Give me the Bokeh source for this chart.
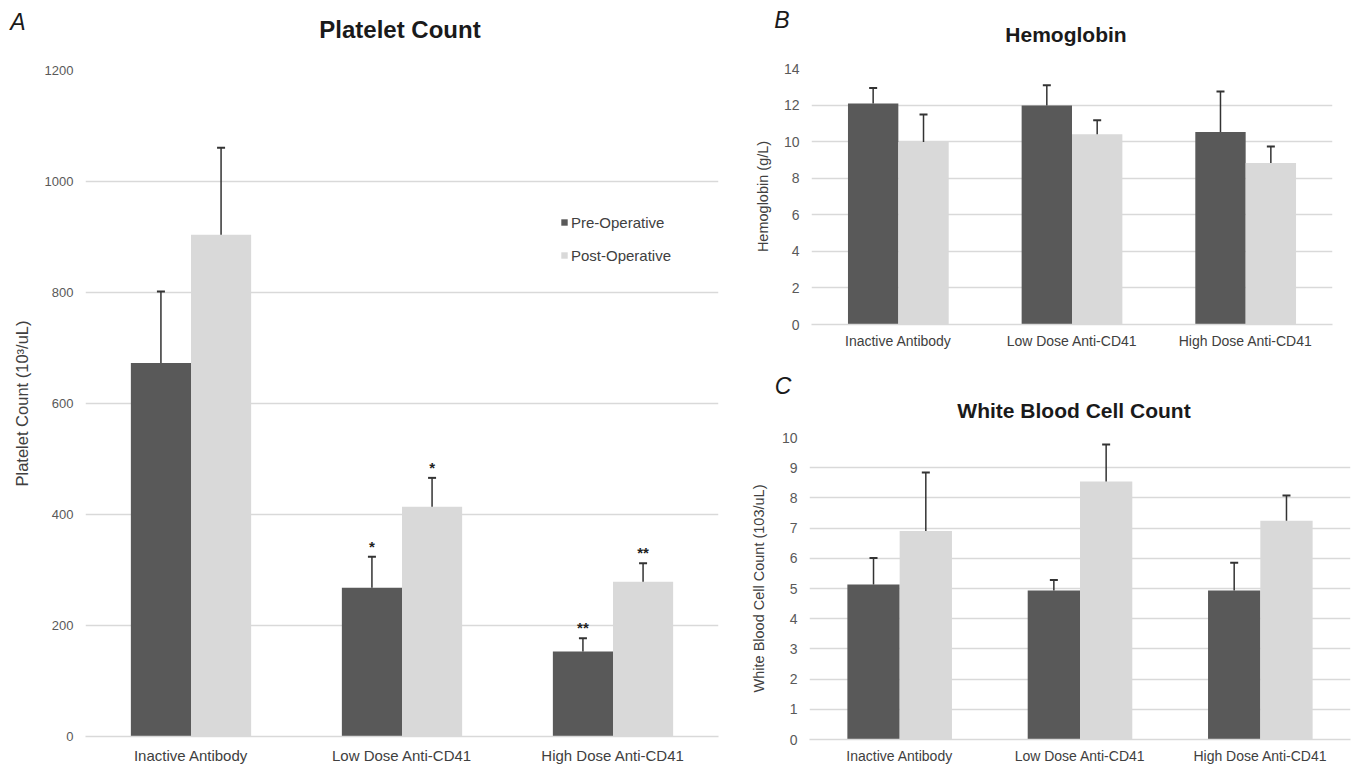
from bokeh.plotting import figure
from bokeh.models import ColumnDataSource, FactorRange, Range1d, FixedTicker, Legend, LegendItem, Div
from bokeh.transform import dodge
from bokeh.layouts import row, column
from bokeh.embed import file_html
from bokeh.resources import INLINE
from bokeh.core.properties import value

# ---------------- data ----------------
categories = ["Inactive Antibody", "Low Dose Anti-CD41", "High Dose Anti-CD41"]
series_names = ["Pre-Operative", "Post-Operative"]

platelet_pre = [673, 268, 153]
platelet_pre_sd = [129, 56, 24]
platelet_post = [904, 414, 279]
platelet_post_sd = [157, 52, 33]
platelet_pre_sig = ["", "*", "**"]
platelet_post_sig = ["", "*", "**"]
platelet_ticks = [0, 200, 400, 600, 800, 1000, 1200]

hgb_pre = [12.08, 11.97, 10.53]
hgb_pre_sd = [0.86, 1.12, 2.21]
hgb_post = [9.98, 10.40, 8.83]
hgb_post_sd = [1.50, 0.77, 0.91]
hgb_ticks = [0, 2, 4, 6, 8, 10, 12, 14]

wbc_pre = [5.13, 4.93, 4.93]
wbc_pre_sd = [0.88, 0.35, 0.92]
wbc_post = [6.90, 8.54, 7.24]
wbc_post_sd = [1.94, 1.23, 0.84]
wbc_ticks = [0, 1, 2, 3, 4, 5, 6, 7, 8, 9, 10]

PRE_COLOR = "#595959"
POST_COLOR = "#d9d9d9"
GRID_COLOR = "#d9d9d9"
TEXT_COLOR = "#595959"
ERR_COLOR = "#333333"
FONT = "Liberation Sans"


def make_header(width, height, letter, letter_xy, title, title_size, title_xy):
    """Header strip holding the italic panel letter and the bold panel title."""
    lx, ly = letter_xy
    tx, ty = title_xy
    html = (
        f'<div style="position:relative;width:{width}px;height:{height}px;overflow:visible;'
        f"font-family:'{FONT}';color:#1a1a1a;\">"
        f'<span style="position:absolute;left:{lx - 20}px;top:{ly - 14}px;width:40px;'
        f'text-align:center;font-size:23px;line-height:28px;font-style:italic;">{letter}</span>'
        f'<span style="position:absolute;left:{tx - 200}px;top:{ty - 14}px;width:400px;'
        f'text-align:center;font-size:{title_size};line-height:28px;font-weight:bold;'
        f'white-space:nowrap;">{title}</span>'
        f'</div>'
    )
    return Div(text=html, width=width, height=height, margin=0)


def make_panel(width, height, borders, ylabel, ylabel_size, ylabel_standoff, ticks,
               pre, pre_sd, post, post_sd, bar_w, tick_size, cat_size, cat_standoff,
               pre_sig=None, post_sig=None, legend_loc=None):
    left, right, top, bottom = borders
    p = figure(width=width, height=height, x_range=FactorRange(*categories),
               y_range=Range1d(ticks[0], ticks[-1]), output_backend="svg",
               toolbar_location=None, min_border_left=left, min_border_right=right,
               min_border_top=top, min_border_bottom=bottom)
    p.title = None
    p.outline_line_color = None
    p.background_fill_color = "white"
    p.border_fill_color = "white"

    src = ColumnDataSource(dict(
        cat=categories,
        pre=pre, post=post,
        pre_top=[m + s for m, s in zip(pre, pre_sd)],
        post_top=[m + s for m, s in zip(post, post_sd)],
        pre_sig=pre_sig if pre_sig else [""] * len(categories),
        post_sig=post_sig if post_sig else [""] * len(categories),
    ))
    off = bar_w / 2
    xpre = dodge("cat", -off, range=p.x_range)
    xpost = dodge("cat", off, range=p.x_range)

    r_pre = p.vbar(x=xpre, top="pre", bottom=0, width=bar_w, source=src,
                   fill_color=PRE_COLOR, line_color=None)
    r_post = p.vbar(x=xpost, top="post", bottom=0, width=bar_w, source=src,
                    fill_color=POST_COLOR, line_color=None)

    # error bars (upper only)
    for xx, base, topc in ((xpre, "pre", "pre_top"), (xpost, "post", "post_top")):
        p.segment(x0=xx, y0=base, x1=xx, y1=topc, source=src, line_color=ERR_COLOR, line_width=1.5)
        p.scatter(x=xx, y=topc, source=src, marker="dash", size=8, line_color=ERR_COLOR, line_width=2)

    if pre_sig:
        p.text(x=xpre, y="pre_top", text="pre_sig", source=src, y_offset=-2,
               text_align="center", text_baseline="bottom", text_font=value(FONT),
               text_font_size="15px", text_color="#222222", text_font_style="bold")
        p.text(x=xpost, y="post_top", text="post_sig", source=src, y_offset=-2,
               text_align="center", text_baseline="bottom", text_font=value(FONT),
               text_font_size="15px", text_color="#222222", text_font_style="bold")

    # axes
    p.yaxis.ticker = FixedTicker(ticks=ticks)
    p.yaxis.axis_line_color = None
    p.yaxis.major_tick_line_color = None
    p.yaxis.minor_tick_line_color = None
    p.yaxis.major_label_text_font = FONT
    p.yaxis.major_label_text_font_size = tick_size
    p.yaxis.major_label_text_color = TEXT_COLOR
    p.yaxis.major_label_standoff = 6
    p.yaxis.axis_label = ylabel
    p.yaxis.axis_label_text_font = FONT
    p.yaxis.axis_label_text_font_size = ylabel_size
    p.yaxis.axis_label_text_font_style = "normal"
    p.yaxis.axis_label_text_color = "#404040"
    p.yaxis.axis_label_standoff = ylabel_standoff

    p.xaxis.axis_line_color = GRID_COLOR
    p.xaxis.axis_line_width = 1.5
    p.xaxis.major_tick_line_color = None
    p.xaxis.minor_tick_line_color = None
    p.xaxis.major_label_text_font = FONT
    p.xaxis.major_label_text_font_size = cat_size
    p.xaxis.major_label_text_color = "#404040"
    p.xaxis.major_label_standoff = cat_standoff
    p.xaxis.major_tick_out = 0

    p.xgrid.grid_line_color = None
    p.ygrid.grid_line_color = GRID_COLOR
    p.ygrid.grid_line_width = 1.5

    if legend_loc is not None:
        legend = Legend(items=[LegendItem(label=series_names[0], renderers=[r_pre]),
                               LegendItem(label=series_names[1], renderers=[r_post])],
                        location=legend_loc)
        legend.background_fill_alpha = 0
        legend.border_line_color = None
        legend.label_text_font = FONT
        legend.label_text_font_size = "15px"
        legend.label_text_color = "#404040"
        legend.glyph_width = 8
        legend.glyph_height = 8
        legend.label_height = 20
        legend.spacing = 13
        legend.padding = 0
        legend.margin = 0
        legend.label_standoff = 3
        p.add_layout(legend)
    return p


hA = make_header(740, 60, "A", (18, 22), "Platelet Count", "24px", (400, 30))
pA = make_panel(740, 706, (85, 22, 10, 29),
                "Platelet Count (10\u00b3/uL)", "16.5px", 11, platelet_ticks,
                platelet_pre, platelet_pre_sd, platelet_post, platelet_post_sd,
                0.285, "13px", "15px", 10,
                pre_sig=platelet_pre_sig, post_sig=platelet_post_sig,
                legend_loc=(475, 471))

hB = make_header(615, 55, "B", (42, 20), "Hemoglobin", "21px", (326, 35))
pB = make_panel(615, 310, (71, 23, 13, 41),
                "Hemoglobin (g/L)", "14.5px", 10, hgb_ticks,
                hgb_pre, hgb_pre_sd, hgb_post, hgb_post_sd,
                0.29, "14px", "14px", 8)

hC = make_header(615, 60, "C", (43, 21), "White Blood Cell Count", "21px", (334, 46))
pC = make_panel(615, 341, (69, 5, 12, 26),
                "White Blood Cell Count (103/uL)", "14.5px", 12, wbc_ticks,
                wbc_pre, wbc_pre_sd, wbc_post, wbc_post_sd,
                0.29, "14px", "14px", 8)

layout = row(column(hA, pA), column(column(hB, pB), column(hC, pC)))
open("out.html", "w").write(file_html(layout, INLINE))
